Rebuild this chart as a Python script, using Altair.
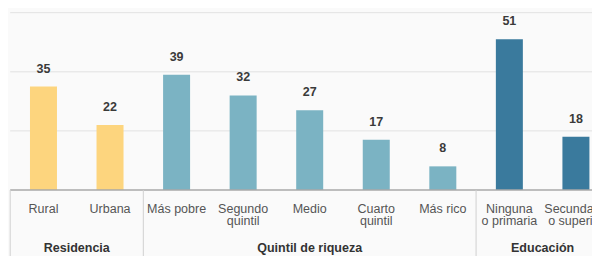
import altair as alt
import pandas as pd

categories = ["Rural", "Urbana", "Más pobre", "Segundo\nquintil", "Medio",
              "Cuarto\nquintil", "Más rico", "Ninguna\no primaria", "Secundaria\no superior"]
values = [35, 22, 39, 32, 27, 17, 8, 51, 18]
groups = ["Residencia", "Residencia",
          "Quintil de riqueza", "Quintil de riqueza", "Quintil de riqueza",
          "Quintil de riqueza", "Quintil de riqueza",
          "Educación", "Educación"]
group_names = ["Residencia", "Quintil de riqueza", "Educación"]
group_colors = ["#fdd57e", "#7bb3c3", "#3a7a9d"]
grid_values = [20, 40, 60]

W, H = 584, 248
FONT = "Liberation Sans"
N = len(categories)

df = pd.DataFrame({"cat": categories, "value": values, "group": groups,
                   "idx": list(range(N))})
gdf = df.groupby("group", sort=False).agg(center=("idx", "mean"),
                                          start=("idx", "min")).reset_index()
seps = pd.DataFrame({"pos": [s - 0.5 for s in gdf["start"]], "zero": 0})
grid = pd.DataFrame({"v": grid_values, "x0": -0.5, "x1": N - 0.5})
base = pd.DataFrame({"v": [0], "x0": [-0.5], "x1": [N - 0.5]})

xs = alt.Scale(domain=[-0.5, N - 0.5], range=[2.2, 601.2], nice=False, zero=False, padding=0)
ys = alt.Scale(domain=[0, 60], range=[182, 4.7], nice=False, padding=0)

gridlines = alt.Chart(grid).mark_rule(color="#e2e2e2", strokeWidth=1).encode(
    y=alt.Y("v:Q", scale=ys, axis=None),
    x=alt.X("x0:Q", scale=xs, axis=None),
    x2="x1:Q",
)

bars = alt.Chart(df).mark_bar(size=27).encode(
    x=alt.X("idx:Q", scale=xs, axis=None),
    y=alt.Y("value:Q", scale=ys, axis=None),
    color=alt.Color("group:N", scale=alt.Scale(domain=group_names, range=group_colors), legend=None),
)

baseline = alt.Chart(base).mark_rule(color="#a8a8a8", strokeWidth=1.5).encode(
    y=alt.Y("v:Q", scale=ys, axis=None),
    x=alt.X("x0:Q", scale=xs, axis=None),
    x2="x1:Q",
)

separators = alt.Chart(seps).mark_rule(color="#d0d0d0", strokeWidth=1).encode(
    x=alt.X("pos:Q", scale=xs, axis=None),
    y=alt.Y("zero:Q", scale=ys, axis=None),
    y2=alt.value(H),
)

value_labels = alt.Chart(df).mark_text(
    font=FONT, fontSize=12.5, fontWeight="bold", color="#3a3a3a",
    baseline="alphabetic", dy=-14,
).encode(
    x=alt.X("idx:Q", scale=xs, axis=None),
    y=alt.Y("value:Q", scale=ys, axis=None),
    text="value:Q",
)

cat_labels = alt.Chart(df).mark_text(
    font=FONT, fontSize=12.5, color="#555555", baseline="alphabetic",
    lineBreak="\n", lineHeight=12.5,
).encode(
    x=alt.X("idx:Q", scale=xs, axis=None),
    y=alt.value(204.5),
    text="cat:N",
)

group_labels = alt.Chart(gdf).mark_text(
    font=FONT, fontSize=12.5, fontWeight="bold", color="#333333", baseline="alphabetic",
).encode(
    x=alt.X("center:Q", scale=xs, axis=None),
    y=alt.value(243.5),
    text="group:N",
)

chart = alt.layer(gridlines, bars, baseline, separators, value_labels, cat_labels, group_labels).properties(
    width=W, height=H, padding=0, autosize="none", background="#fafafa",
).configure_view(stroke=None)

chart.save("out.html", embed_options={"renderer": "svg", "actions": False})
